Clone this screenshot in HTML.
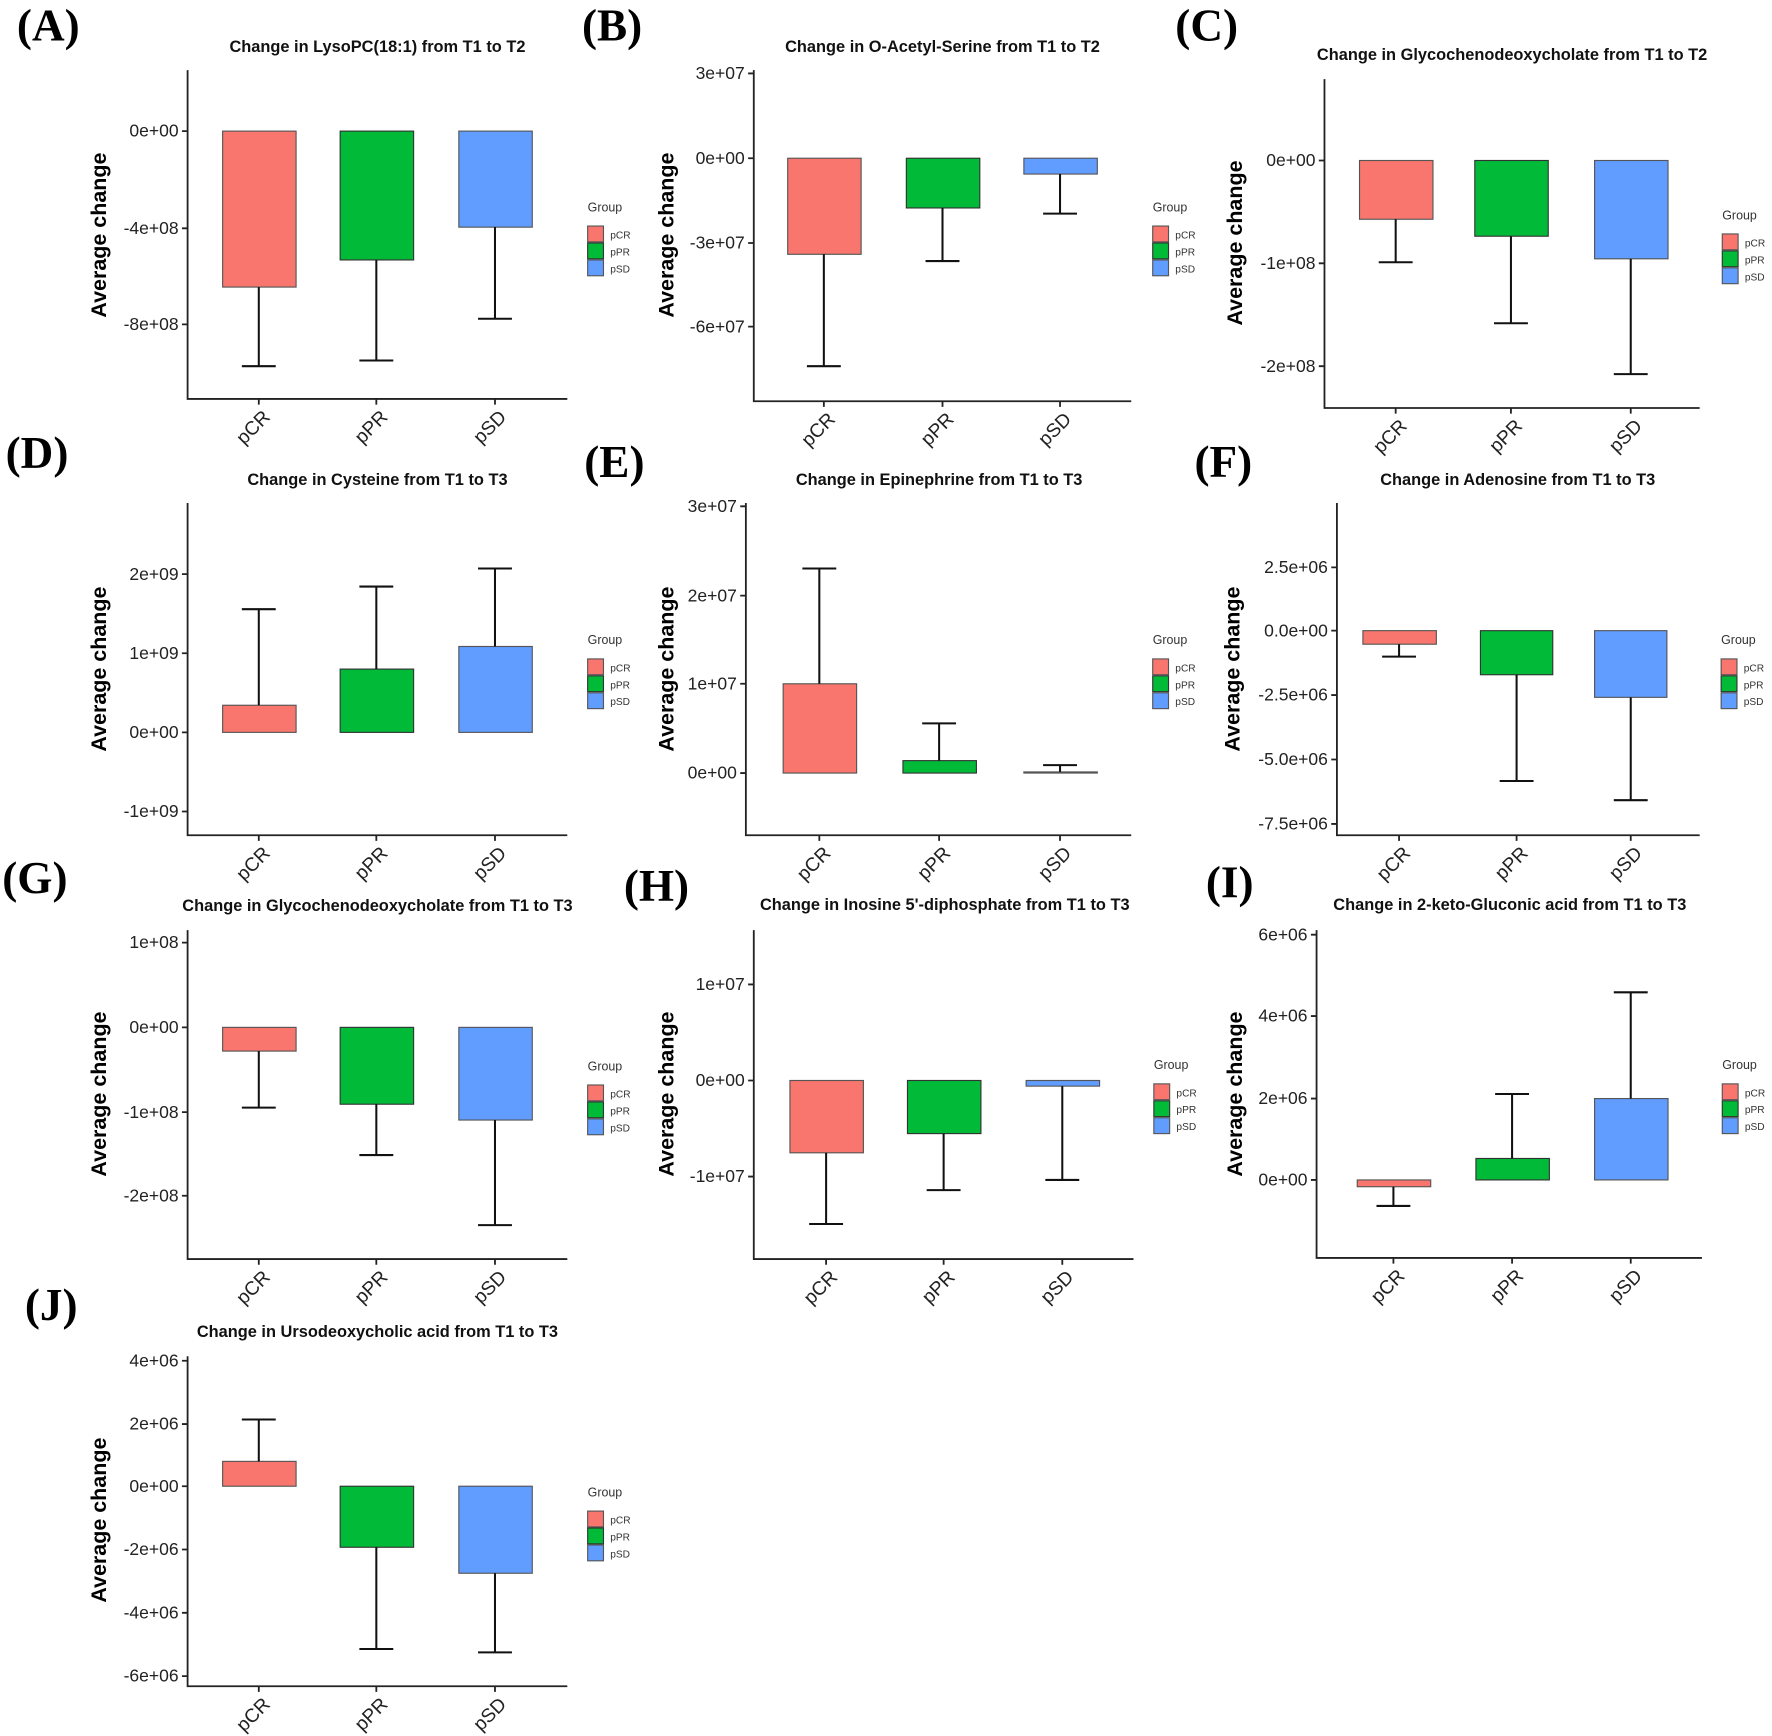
<!DOCTYPE html>
<html><head><meta charset="utf-8"><style>
html,body{margin:0;padding:0;background:#fff}
svg{display:block}
.t{font:bold 14.5px "Liberation Sans",sans-serif;text-anchor:middle;fill:#111}
.tk{font:15.5px "Liberation Sans",sans-serif;text-anchor:end;fill:#222}
.yl{font:bold 19px "Liberation Sans",sans-serif;text-anchor:middle;fill:#000}
.xl{font:17px "Liberation Sans",sans-serif;text-anchor:end;fill:#222}
.L{font:bold 40px "Liberation Serif",serif;fill:#000}
.g{font:11px "Liberation Sans",sans-serif;fill:#333}
.gk{font:9px "Liberation Sans",sans-serif;fill:#333}
.ax{stroke:#222;stroke-width:1.6;fill:none}
.w{stroke:#111;stroke-width:1.8;fill:none}
.r{fill:#F8766D;stroke:#555;stroke-width:1}
.gr{fill:#00BA38;stroke:#333;stroke-width:1}
.b{fill:#619CFF;stroke:#555;stroke-width:1}
</style></head><body>
<svg width="1772" height="1736" viewBox="0 0 1568 1536" preserveAspectRatio="none" xmlns="http://www.w3.org/2000/svg">
<defs>
<g id="leg">
<text class="g" x="0" y="0">Group</text>
<rect class="r" x="0" y="13" width="14" height="14"/><text class="gk" x="20" y="24">pCR</text>
<rect class="gr" x="0" y="28" width="14" height="14"/><text class="gk" x="20" y="39">pPR</text>
<rect class="b" x="0" y="43" width="14" height="14"/><text class="gk" x="20" y="54">pSD</text>
</g>
</defs>

<text class="L" x="15" y="36">(A)</text>
<text class="L" x="515" y="36">(B)</text>
<text class="L" x="1040" y="36">(C)</text>
<text class="L" x="5" y="414">(D)</text>
<text class="L" x="517" y="422">(E)</text>
<text class="L" x="1057" y="422">(F)</text>
<text class="L" x="2" y="790">(G)</text>
<text class="L" x="552" y="797">(H)</text>
<text class="L" x="1067" y="794">(I)</text>
<text class="L" x="22" y="1168">(J)</text>

<!-- Panel A -->
<text class="t" x="334" y="46">Change in LysoPC(18:1) from T1 to T2</text>
<path class="ax" d="M166 62V353H502M161 116H166M161 202H166M161 287H166M229 353v5M333 353v5M438 353v5"/>
<text class="tk" x="158" y="121">0e+00</text><text class="tk" x="158" y="207">-4e+08</text><text class="tk" x="158" y="292">-8e+08</text>
<text class="yl" transform="translate(94,208) rotate(-90)">Average change</text>
<rect class="r" x="197" y="116" width="65" height="138"/><rect class="gr" x="301" y="116" width="65" height="114"/><rect class="b" x="406" y="116" width="65" height="85"/>
<path class="w" d="M229 254V324M214 324H244M333 230V319M318 319H348M438 201V282M423 282H453"/>
<text class="xl" transform="translate(240,370) rotate(-45)">pCR</text><text class="xl" transform="translate(344,370) rotate(-45)">pPR</text><text class="xl" transform="translate(449,370) rotate(-45)">pSD</text>
<use href="#leg" x="520" y="187"/>

<!-- Panel B -->
<text class="t" x="834" y="46">Change in O-Acetyl-Serine from T1 to T2</text>
<path class="ax" d="M667 62V355H1001M662 65H667M662 140H667M662 215H667M662 289H667M729 355v5M834 355v5M938 355v5"/>
<text class="tk" x="659" y="70">3e+07</text><text class="tk" x="659" y="145">0e+00</text><text class="tk" x="659" y="220">-3e+07</text><text class="tk" x="659" y="294">-6e+07</text>
<text class="yl" transform="translate(596,208) rotate(-90)">Average change</text>
<rect class="r" x="697" y="140" width="65" height="85"/><rect class="gr" x="802" y="140" width="65" height="44"/><rect class="b" x="906" y="140" width="65" height="14"/>
<path class="w" d="M729 225V324M714 324H744M834 184V231M819 231H849M938 154V189M923 189H953"/>
<text class="xl" transform="translate(740,372) rotate(-45)">pCR</text><text class="xl" transform="translate(845,372) rotate(-45)">pPR</text><text class="xl" transform="translate(949,372) rotate(-45)">pSD</text>
<use href="#leg" x="1020" y="187"/>

<!-- Panel C -->
<text class="t" x="1338" y="53">Change in Glycochenodeoxycholate from T1 to T2</text>
<path class="ax" d="M1172 70V361H1504M1167 142H1172M1167 233H1172M1167 324H1172M1235 361v5M1337 361v5M1443 361v5"/>
<text class="tk" x="1164" y="147">0e+00</text><text class="tk" x="1164" y="238">-1e+08</text><text class="tk" x="1164" y="329">-2e+08</text>
<text class="yl" transform="translate(1099,215) rotate(-90)">Average change</text>
<rect class="r" x="1203" y="142" width="65" height="52"/><rect class="gr" x="1305" y="142" width="65" height="67"/><rect class="b" x="1411" y="142" width="65" height="87"/>
<path class="w" d="M1235 194V232M1220 232H1250M1337 209V286M1322 286H1352M1443 229V331M1428 331H1458"/>
<text class="xl" transform="translate(1246,378) rotate(-45)">pCR</text><text class="xl" transform="translate(1348,378) rotate(-45)">pPR</text><text class="xl" transform="translate(1454,378) rotate(-45)">pSD</text>
<use href="#leg" x="1524" y="194"/>

<!-- Panel D -->
<text class="t" x="334" y="429">Change in Cysteine from T1 to T3</text>
<path class="ax" d="M166 445V739H502M161 508H166M161 578H166M161 648H166M161 718H166M229 739v5M333 739v5M438 739v5"/>
<text class="tk" x="158" y="513">2e+09</text><text class="tk" x="158" y="583">1e+09</text><text class="tk" x="158" y="653">0e+00</text><text class="tk" x="158" y="723">-1e+09</text>
<text class="yl" transform="translate(94,592) rotate(-90)">Average change</text>
<rect class="r" x="197" y="624" width="65" height="24"/><rect class="gr" x="301" y="592" width="65" height="56"/><rect class="b" x="406" y="572" width="65" height="76"/>
<path class="w" d="M229 624V539M214 539H244M333 592V519M318 519H348M438 572V503M423 503H453"/>
<text class="xl" transform="translate(240,756) rotate(-45)">pCR</text><text class="xl" transform="translate(344,756) rotate(-45)">pPR</text><text class="xl" transform="translate(449,756) rotate(-45)">pSD</text>
<use href="#leg" x="520" y="570"/>

<!-- Panel E -->
<text class="t" x="831" y="429">Change in Epinephrine from T1 to T3</text>
<path class="ax" d="M660 445V739H1001M655 448H660M655 527H660M655 605H660M655 684H660M725 739v5M831 739v5M938 739v5"/>
<text class="tk" x="652" y="453">3e+07</text><text class="tk" x="652" y="532">2e+07</text><text class="tk" x="652" y="610">1e+07</text><text class="tk" x="652" y="689">0e+00</text>
<text class="yl" transform="translate(596,592) rotate(-90)">Average change</text>
<rect class="r" x="693" y="605" width="65" height="79"/><rect class="gr" x="799" y="673" width="65" height="11"/><rect class="b" x="906" y="683" width="65" height="1"/>
<path class="w" d="M725 605V503M710 503H740M831 673V640M816 640H846M938 683V677M923 677H953"/>
<text class="xl" transform="translate(736,756) rotate(-45)">pCR</text><text class="xl" transform="translate(842,756) rotate(-45)">pPR</text><text class="xl" transform="translate(949,756) rotate(-45)">pSD</text>
<use href="#leg" x="1020" y="570"/>

<!-- Panel F -->
<text class="t" x="1343" y="429">Change in Adenosine from T1 to T3</text>
<path class="ax" d="M1183 445V739H1504M1178 502H1183M1178 558H1183M1178 615H1183M1178 672H1183M1178 729H1183M1238 739v5M1342 739v5M1443 739v5"/>
<text class="tk" x="1175" y="507">2.5e+06</text><text class="tk" x="1175" y="563">0.0e+00</text><text class="tk" x="1175" y="620">-2.5e+06</text><text class="tk" x="1175" y="677">-5.0e+06</text><text class="tk" x="1175" y="734">-7.5e+06</text>
<text class="yl" transform="translate(1097,592) rotate(-90)">Average change</text>
<rect class="r" x="1206" y="558" width="65" height="12"/><rect class="gr" x="1310" y="558" width="64" height="39"/><rect class="b" x="1411" y="558" width="64" height="59"/>
<path class="w" d="M1238 570V581M1223 581H1253M1342 597V691M1327 691H1357M1443 617V708M1428 708H1458"/>
<text class="xl" transform="translate(1249,756) rotate(-45)">pCR</text><text class="xl" transform="translate(1353,756) rotate(-45)">pPR</text><text class="xl" transform="translate(1454,756) rotate(-45)">pSD</text>
<use href="#leg" x="1523" y="570"/>

<!-- Panel G -->
<text class="t" x="334" y="806">Change in Glycochenodeoxycholate from T1 to T3</text>
<path class="ax" d="M166 823V1114H502M161 834H166M161 909H166M161 984H166M161 1058H166M229 1114v5M333 1114v5M438 1114v5"/>
<text class="tk" x="158" y="839">1e+08</text><text class="tk" x="158" y="914">0e+00</text><text class="tk" x="158" y="989">-1e+08</text><text class="tk" x="158" y="1063">-2e+08</text>
<text class="yl" transform="translate(94,968) rotate(-90)">Average change</text>
<rect class="r" x="197" y="909" width="65" height="21"/><rect class="gr" x="301" y="909" width="65" height="68"/><rect class="b" x="406" y="909" width="65" height="82"/>
<path class="w" d="M229 930V980M214 980H244M333 977V1022M318 1022H348M438 991V1084M423 1084H453"/>
<text class="xl" transform="translate(240,1131) rotate(-45)">pCR</text><text class="xl" transform="translate(344,1131) rotate(-45)">pPR</text><text class="xl" transform="translate(449,1131) rotate(-45)">pSD</text>
<use href="#leg" x="520" y="947"/>

<!-- Panel H -->
<text class="t" x="836" y="805">Change in Inosine 5'-diphosphate from T1 to T3</text>
<path class="ax" d="M667 823V1114H1003M662 871H667M662 956H667M662 1041H667M731 1114v5M835 1114v5M940 1114v5"/>
<text class="tk" x="659" y="876">1e+07</text><text class="tk" x="659" y="961">0e+00</text><text class="tk" x="659" y="1046">-1e+07</text>
<text class="yl" transform="translate(596,968) rotate(-90)">Average change</text>
<rect class="r" x="699" y="956" width="65" height="64"/><rect class="gr" x="803" y="956" width="65" height="47"/><rect class="b" x="908" y="956" width="65" height="5"/>
<path class="w" d="M731 1020V1083M716 1083H746M835 1003V1053M820 1053H850M940 961V1044M925 1044H955"/>
<text class="xl" transform="translate(742,1131) rotate(-45)">pCR</text><text class="xl" transform="translate(846,1131) rotate(-45)">pPR</text><text class="xl" transform="translate(951,1131) rotate(-45)">pSD</text>
<use href="#leg" x="1021" y="946"/>

<!-- Panel I -->
<text class="t" x="1336" y="805">Change in 2-keto-Gluconic acid from T1 to T3</text>
<path class="ax" d="M1165 823V1113H1506M1160 827H1165M1160 899H1165M1160 972H1165M1160 1044H1165M1233 1113v5M1338 1113v5M1443 1113v5"/>
<text class="tk" x="1157" y="832">6e+06</text><text class="tk" x="1157" y="904">4e+06</text><text class="tk" x="1157" y="977">2e+06</text><text class="tk" x="1157" y="1049">0e+00</text>
<text class="yl" transform="translate(1099,968) rotate(-90)">Average change</text>
<rect class="r" x="1201" y="1044" width="65" height="6"/><rect class="gr" x="1306" y="1025" width="65" height="19"/><rect class="b" x="1411" y="972" width="65" height="72"/>
<path class="w" d="M1233 1050V1067M1218 1067H1248M1338 1025V968M1323 968H1353M1443 972V878M1428 878H1458"/>
<text class="xl" transform="translate(1244,1130) rotate(-45)">pCR</text><text class="xl" transform="translate(1349,1130) rotate(-45)">pPR</text><text class="xl" transform="translate(1454,1130) rotate(-45)">pSD</text>
<use href="#leg" x="1524" y="946"/>

<!-- Panel J -->
<text class="t" x="334" y="1183">Change in Ursodeoxycholic acid from T1 to T3</text>
<path class="ax" d="M166 1200V1492H502M161 1204H166M161 1260H166M161 1315H166M161 1371H166M161 1427H166M161 1483H166M229 1492v5M333 1492v5M438 1492v5"/>
<text class="tk" x="158" y="1209">4e+06</text><text class="tk" x="158" y="1265">2e+06</text><text class="tk" x="158" y="1320">0e+00</text><text class="tk" x="158" y="1376">-2e+06</text><text class="tk" x="158" y="1432">-4e+06</text><text class="tk" x="158" y="1488">-6e+06</text>
<text class="yl" transform="translate(94,1345) rotate(-90)">Average change</text>
<rect class="r" x="197" y="1293" width="65" height="22"/><rect class="gr" x="301" y="1315" width="65" height="54"/><rect class="b" x="406" y="1315" width="65" height="77"/>
<path class="w" d="M229 1293V1256M214 1256H244M333 1369V1459M318 1459H348M438 1392V1462M423 1462H453"/>
<text class="xl" transform="translate(240,1509) rotate(-45)">pCR</text><text class="xl" transform="translate(344,1509) rotate(-45)">pPR</text><text class="xl" transform="translate(449,1509) rotate(-45)">pSD</text>
<use href="#leg" x="520" y="1324"/>
</svg>
</body></html>
